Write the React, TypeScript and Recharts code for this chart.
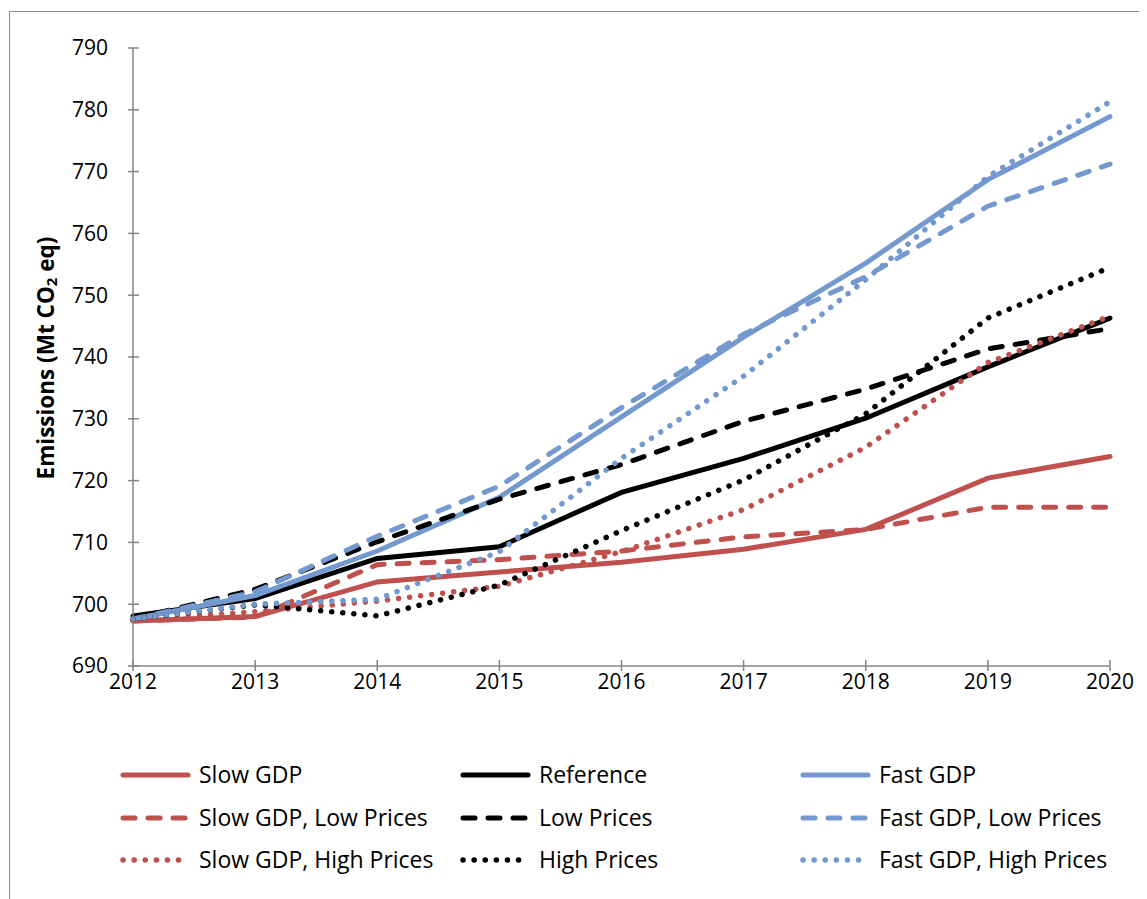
import { LineChart, Line, XAxis, YAxis } from 'recharts'

const YEARS = [2012, 2013, 2014, 2015, 2016, 2017, 2018, 2019, 2020]
const Y_TICKS = [690, 700, 710, 720, 730, 740, 750, 760, 770, 780, 790]

const SLOW_GDP = [697.3, 698.0, 703.6, 705.2, 706.8, 708.9, 712.1, 720.4, 723.9]
const REFERENCE = [698.1, 700.9, 707.4, 709.3, 718.1, 723.6, 730.1, 738.4, 746.3]
const FAST_GDP = [697.6, 701.4, 708.6, 717.3, 730.3, 743.2, 755.2, 768.7, 778.9]
const SLOW_GDP_LOW = [697.3, 697.9, 706.4, 707.2, 708.6, 710.9, 712.1, 715.7, 715.7]
const LOW_PRICES = [697.6, 702.4, 710.1, 717.0, 722.6, 729.6, 734.8, 741.3, 744.6]
const FAST_GDP_LOW = [697.6, 702.0, 711.0, 719.1, 731.8, 743.7, 753.0, 764.4, 771.2]
const SLOW_GDP_HIGH = [697.4, 698.8, 700.5, 702.9, 708.5, 715.3, 725.4, 739.1, 746.6]
const HIGH_PRICES = [697.6, 699.9, 698.1, 703.1, 711.9, 720.1, 730.8, 746.3, 754.5]
const FAST_GDP_HIGH = [697.6, 700.0, 700.8, 708.5, 723.6, 736.9, 752.5, 769.2, 781.3]

const RED = '#C0504D'
const BLACK = '#000000'
const BLUE = '#7399CF'
const AXIS = '#868686'
const FONT = '"Open Sans", sans-serif'

type Style = 'solid' | 'dash' | 'dot'

interface Series {
  key: string
  name: string
  color: string
  style: Style
  values: number[]
}

// legend reads row by row, same as the series order
const SERIES: Series[] = [
  { key: 'slowGdp', name: 'Slow GDP', color: RED, style: 'solid', values: SLOW_GDP },
  { key: 'reference', name: 'Reference', color: BLACK, style: 'solid', values: REFERENCE },
  { key: 'fastGdp', name: 'Fast GDP', color: BLUE, style: 'solid', values: FAST_GDP },
  { key: 'slowLow', name: 'Slow GDP, Low Prices', color: RED, style: 'dash', values: SLOW_GDP_LOW },
  { key: 'low', name: 'Low Prices', color: BLACK, style: 'dash', values: LOW_PRICES },
  { key: 'fastLow', name: 'Fast GDP, Low Prices', color: BLUE, style: 'dash', values: FAST_GDP_LOW },
  { key: 'slowHigh', name: 'Slow GDP, High Prices', color: RED, style: 'dot', values: SLOW_GDP_HIGH },
  { key: 'high', name: 'High Prices', color: BLACK, style: 'dot', values: HIGH_PRICES },
  { key: 'fastHigh', name: 'Fast GDP, High Prices', color: BLUE, style: 'dot', values: FAST_GDP_HIGH },
]

const data = YEARS.map((year, i) => {
  const row: Record<string, number> = { year }
  SERIES.forEach((s) => {
    row[s.key] = s.values[i]
  })
  return row
})

const strokeProps = (style: Style) => {
  if (style === 'dash') return { strokeWidth: 5, strokeDasharray: '12 13', strokeLinecap: 'round' as const }
  if (style === 'dot') return { strokeWidth: 5.5, strokeDasharray: '0.1 11', strokeLinecap: 'round' as const }
  return { strokeWidth: 5, strokeLinecap: 'round' as const }
}

const YTick = (props: any) => {
  const { x, y, payload } = props
  return (
    <g>
      <line x1={x + 20} x2={x + 31} y1={y} y2={y} stroke={AXIS} strokeWidth={1.5} />
      <text x={x} y={y} dy="0.35em" textAnchor="end" fontFamily={FONT} fontSize={21} fill="#000">
        {payload.value}
      </text>
    </g>
  )
}

const XTick = (props: any) => {
  const { x, y, payload } = props
  return (
    <g>
      <line x1={x} x2={x} y1={y - 14} y2={y - 3} stroke={AXIS} strokeWidth={1.5} />
      <text x={x} y={y} dy="0.72em" textAnchor="middle" fontFamily={FONT} fontSize={21} fill="#000">
        {payload.value}
      </text>
    </g>
  )
}

const YLabel = () => (
  <text
    x={35}
    y={346}
    transform="rotate(-90 35 346)"
    textAnchor="middle"
    dominantBaseline="central"
    fontFamily={FONT}
    fontSize={22.5}
    fontWeight="bold"
    fill="#000"
  >
    Emissions (Mt CO
    <tspan fontSize={15} dy={6}>2</tspan>
    <tspan dy={-6}> eq)</tspan>
  </text>
)

const LEGEND_COLS = [110, 450, 790]
const LEGEND_ROWS = [763, 806, 848]

function ChartLegend() {
  return (
    <svg width={1139} height={888} style={{ position: 'absolute', left: 0, top: 0, pointerEvents: 'none' }}>
      {SERIES.map((s, i) => {
        const x = LEGEND_COLS[i % 3]
        const y = LEGEND_ROWS[Math.floor(i / 3)]
        return (
          <g key={s.key}>
            <line x1={x + 3} x2={x + 68} y1={y} y2={y} stroke={s.color} {...strokeProps(s.style)} />
            <text x={x + 79} y={y} dy="0.35em" fontFamily={FONT} fontSize={23} fill="#000">
              {s.name}
            </text>
          </g>
        )
      })}
    </svg>
  )
}

export default function App() {
  return (
    <div
      style={{
        position: 'relative',
        top: 3,
        left: 1,
        width: 1150,
        height: 900,
        border: '1px solid #8c8c8c',
        background: '#fff',
      }}
    >
      <LineChart width={1139} height={888} data={data} margin={{ top: 36, right: 39, left: 0, bottom: 204 }}>
        <XAxis
          dataKey="year"
          type="number"
          domain={[2012, 2020]}
          ticks={YEARS}
          interval={0}
          height={30}
          tickSize={5}
          tickMargin={3}
          tickLine={false}
          stroke={AXIS}
          strokeWidth={1.5}
          tick={<XTick />}
        />
        <YAxis
          type="number"
          domain={[690, 790]}
          ticks={Y_TICKS}
          interval={0}
          width={123}
          tickSize={5}
          tickMargin={20}
          tickLine={false}
          stroke={AXIS}
          strokeWidth={1.5}
          tick={<YTick />}
          label={<YLabel />}
        />
        {SERIES.map((s) => (
          <Line
            key={s.key}
            type="linear"
            dataKey={s.key}
            name={s.name}
            stroke={s.color}
            {...strokeProps(s.style)}
            dot={false}
            activeDot={false}
            isAnimationActive={false}
          />
        ))}
      </LineChart>
      <ChartLegend />
    </div>
  )
}
